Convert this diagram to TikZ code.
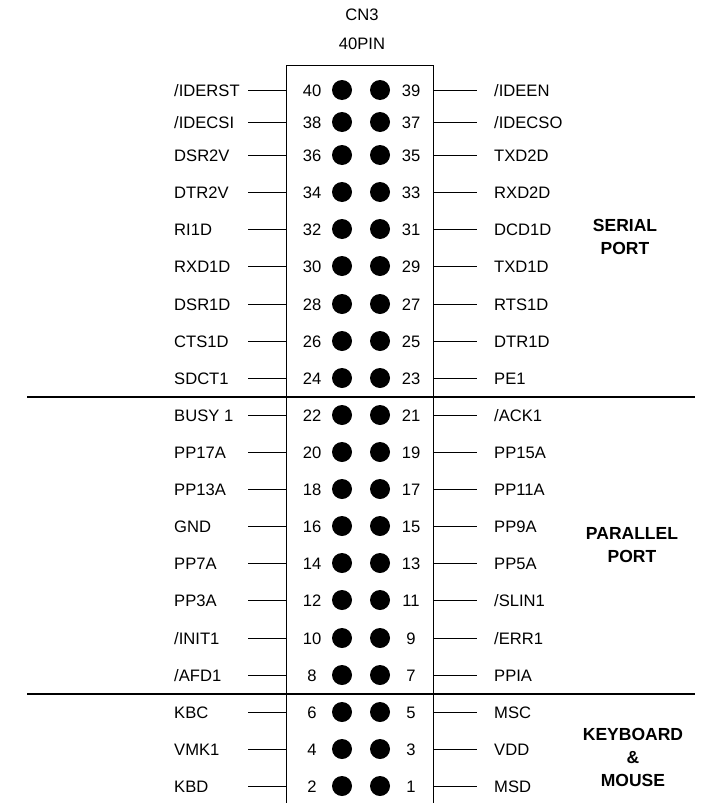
\documentclass[tikz,border=0pt]{standalone}
\usepackage{fontspec}
\setmainfont{Liberation Sans}
\tikzset{
  sig/.style={inner sep=0pt, text height=12pt, text depth=0pt, font=\fontsize{16.6}{19}\selectfont},
  pnum/.style={sig},
  pindot/.style={circle, fill=black, inner sep=0pt, minimum size=20pt},
  wire/.style={line width=0.8pt},
  grp/.style={align=center, inner sep=0pt, font=\bfseries\fontsize{17.5}{23}\selectfont},
}

\begin{document}
\begin{tikzpicture}[x=1pt,y=-1pt]
\useasboundingbox (0,0) rectangle (702,803);

\def\bl{286}
\def\br{433}
\def\dl{342}
\def\dr{380}
\def\nl{312}
\def\nr{411}
\def\ll{174}
\def\lr{494}
\def\wl{248}
\def\wr{477}

% Header
\node[sig] (cn) at (362,14) {CN3};
\node[sig] (pins) at (362,43) {40PIN};

% Connector body (open at the bottom)
\draw[line width=0.9pt] (\bl,803) -- (\bl,65) -- (\br,65) -- (\br,803);

% Pin rows
\foreach \y/\a/\sa/\b/\sb in {
   90/40/{/IDERST}/39/{/IDEEN},
  122/38/{/IDECSI}/37/{/IDECSO},
  155/36/DSR2V/35/TXD2D,
  192/34/DTR2V/33/RXD2D,
  229/32/RI1D/31/DCD1D,
  266/30/RXD1D/29/TXD1D,
  304/28/DSR1D/27/RTS1D,
  341/26/CTS1D/25/DTR1D,
  378/24/SDCT1/23/PE1,
  415/22/BUSY 1/21/{/ACK1},
  452/20/PP17A/19/PP15A,
  489/18/PP13A/17/PP11A,
  526/16/GND/15/PP9A,
  563/14/PP7A/13/PP5A,
  600/12/PP3A/11/{/SLIN1},
  638/10/{/INIT1}/9/{/ERR1},
  675/8/{/AFD1}/7/PPIA,
  712/6/KBC/5/MSC,
  749/4/VMK1/3/VDD,
  786/2/KBD/1/MSD}{
  \node[sig, anchor=west] (l\a) at (\ll,\y) {\sa};
  \node[pnum] (n\a) at (\nl,\y) {\a};
  \node[pindot] (p\a) at (\dl,\y) {};
  \node[pindot] (p\b) at (\dr,\y) {};
  \node[pnum] (n\b) at (\nr,\y) {\b};
  \node[sig, anchor=west] (r\b) at (\lr,\y) {\sb};
  \coordinate (a\a) at (\wl,\y);
  \coordinate (b\a) at (\bl,\y);
  \coordinate (a\b) at (\br,\y);
  \coordinate (b\b) at (\wr,\y);
  \draw[wire] (a\a) -- (b\a);
  \draw[wire] (a\b) -- (b\b);
}

% Group separators
\draw[line width=1.2pt] (27,397) -- (695,397);
\draw[line width=1.2pt] (27,694) -- (695,694);

% Group names
\node[grp] (serial) at (625,237) {SERIAL\\PORT};
\node[grp] (parallel) at (632,545) {PARALLEL\\PORT};
\node[grp] (kbm) at (633,757) {KEYBOARD\\\&\\MOUSE};

\end{tikzpicture}
\end{document}
